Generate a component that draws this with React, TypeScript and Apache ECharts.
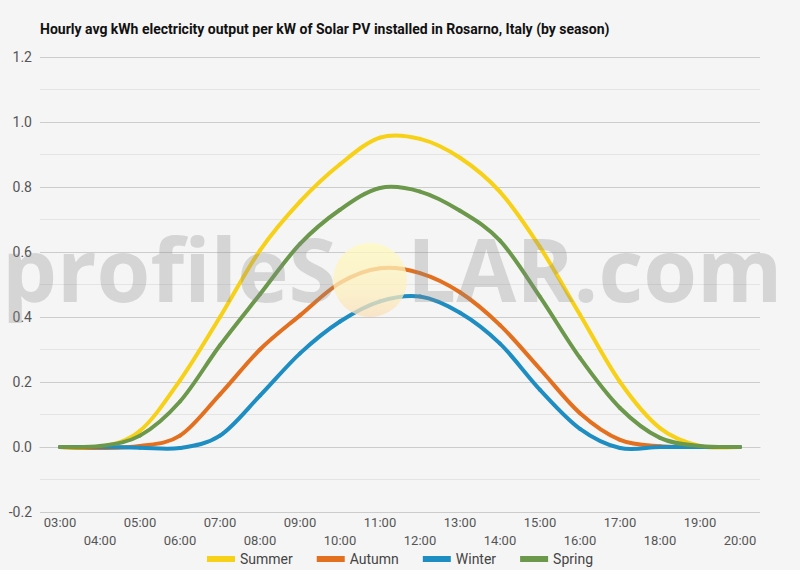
import React, { useEffect, useRef } from "react";
import * as echarts from "echarts";

const hours = ["03:00","04:00","05:00","06:00","07:00","08:00","09:00","10:00","11:00","12:00","13:00","14:00","15:00","16:00","17:00","18:00","19:00","20:00"];
const summer = [0, 0, 0.05, 0.205, 0.4, 0.605, 0.755, 0.87, 0.952, 0.948, 0.89, 0.785, 0.615, 0.407, 0.2, 0.058, 0.003, 0];
const autumn = [0, -0.003, 0.003, 0.035, 0.162, 0.3, 0.405, 0.505, 0.55, 0.535, 0.476, 0.375, 0.24, 0.104, 0.022, 0.002, 0, 0];
const winter = [0, 0, -0.002, -0.003, 0.035, 0.158, 0.288, 0.386, 0.448, 0.463, 0.413, 0.318, 0.176, 0.056, -0.003, 0, 0, 0];
const spring = [0, 0.003, 0.035, 0.14, 0.313, 0.47, 0.625, 0.73, 0.797, 0.786, 0.727, 0.635, 0.462, 0.274, 0.12, 0.028, 0.003, 0];

const seriesNames = ["Summer", "Autumn", "Winter", "Spring"];
const seriesColors = ["#F7D117", "#E2701F", "#1E8DC2", "#6B984B"];
const seriesData = [summer, autumn, winter, spring];
const title = "Hourly avg kWh electricity output per kW of Solar PV installed in Rosarno, Italy (by season)";

function makeRender(arr: number[], color: string) {
  const n = arr.length;
  return (params: any, api: any) => {
    const j = params.dataIndex;
    if (j >= n - 1) return { type: "group", children: [] };
    const pt = (k: number) => {
      const c = Math.max(0, Math.min(n - 1, k));
      return api.coord([c, arr[c]]);
    };
    const p0 = pt(j - 1), p1 = pt(j), p2 = pt(j + 1), p3 = pt(j + 2);
    return {
      type: "bezierCurve",
      shape: {
        x1: p1[0], y1: p1[1], x2: p2[0], y2: p2[1],
        cpx1: p1[0] + (p2[0] - p0[0]) / 6,
        cpy1: p1[1] + (p2[1] - p0[1]) / 6,
        cpx2: p2[0] - (p3[0] - p1[0]) / 6,
        cpy2: p2[1] - (p3[1] - p1[1]) / 6,
      },
      style: { stroke: color, lineWidth: 4, fill: null, lineCap: "round" },
    };
  };
}

export default function App() {
  const ref = useRef<HTMLDivElement>(null);
  useEffect(() => {
    if (!ref.current) return;
    const chart = echarts.init(ref.current, null, { renderer: "svg" });
    const wmFill = "rgba(140,140,140,0.3)";
    const wmFont = "bold 87px 'Open Sans'";
    chart.setOption({
      animation: false,
      backgroundColor: "#F5F5F5",
      title: {
        text: title,
        left: 35,
        top: 17,
        textStyle: { fontFamily: "Roboto", fontWeight: "bold", fontSize: 14, color: "#111" },
      },
      legend: {
        bottom: -1,
        left: "center",
        icon: "rect",
        itemWidth: 28,
        itemHeight: 6,
        itemGap: 24,
        data: seriesNames,
        textStyle: { fontFamily: "Roboto", fontSize: 14, color: "#444" },
      },
      grid: { left: 40, right: 40, top: 57, bottom: 58 },
      xAxis: {
        type: "category",
        data: hours,
        boundaryGap: true,
        axisLine: { show: true, lineStyle: { color: "#ccc" } },
        axisTick: { show: false },
        axisLabel: {
          interval: 0,
          color: "#555",
          fontFamily: "Roboto",
          fontSize: 13,
          lineHeight: 18,
          margin: 1,
          formatter: (v: string, i: number) => (i % 2 === 1 ? "\n" + v : v),
        },
      },
      yAxis: {
        type: "value",
        min: -0.2,
        max: 1.2,
        interval: 0.2,
        axisLine: { show: false },
        axisTick: { show: false },
        axisLabel: {
          color: "#555",
          fontFamily: "Roboto",
          fontSize: 14,
          margin: 8,
          formatter: (v: number) => v.toFixed(1),
        },
        splitLine: {
          show: true,
          lineStyle: { color: ["#ccc", "#222", "#ccc", "#ccc", "#ccc", "#ccc", "#ccc", "#ccc"], width: 1 },
        },
        minorTick: { show: false, splitNumber: 2 },
        minorSplitLine: { show: true, lineStyle: { color: "#e4e4e4", width: 1 } },
      },
      series: seriesNames.map((name, i) => ({
        name,
        type: "custom",
        data: seriesData[i].map((v, j) => [j, v]),
        encode: { x: 0, y: 1 },
        itemStyle: { color: seriesColors[i] },
        renderItem: makeRender(seriesData[i], seriesColors[i]),
        z: 2 + i,
      })),
      graphic: [
        {
          type: "text",
          z: 100,
          silent: true,
          left: 2,
          top: 224,
          style: { text: "profileS", font: wmFont, fill: wmFill },
        },
        {
          type: "circle",
          z: 100,
          silent: true,
          shape: { cx: 370, cy: 280, r: 37 },
          style: {
            fill: new echarts.graphic.LinearGradient(0, 0, 0, 1, [
              { offset: 0, color: "rgba(255,250,190,0.75)" },
              { offset: 0.7, color: "rgba(253,238,190,0.75)" },
              { offset: 1, color: "rgba(250,222,185,0.75)" },
            ]),
          },
        },
        {
          type: "text",
          z: 100,
          silent: true,
          left: 407,
          top: 224,
          style: { text: "LAR.com", font: wmFont, fill: wmFill },
        },
      ],
    });
    return () => chart.dispose();
  }, []);
  return <div ref={ref} style={{ position: "fixed", left: 0, top: 0, width: 800, height: 570 }} />;
}
